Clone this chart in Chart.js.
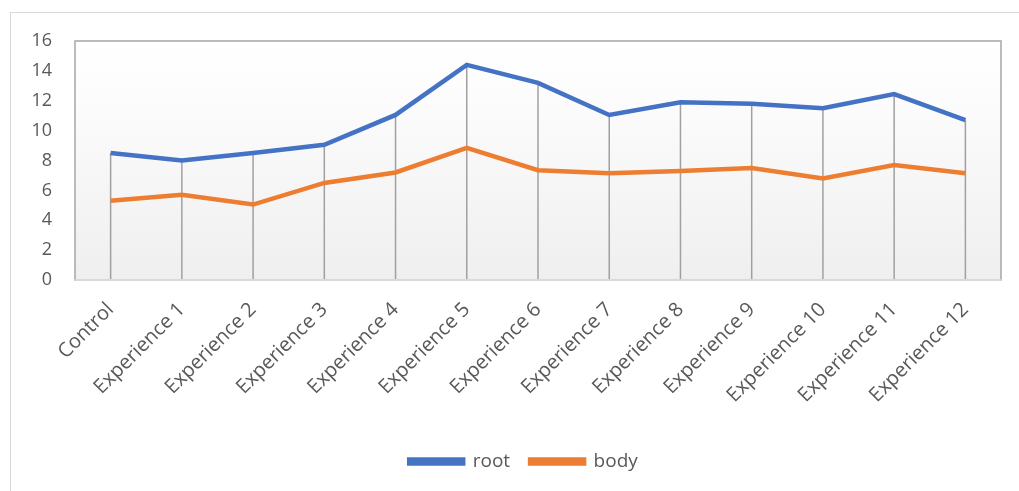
<!DOCTYPE html>
<html>
<head>
<meta charset="utf-8">
<script src="https://cdn.jsdelivr.net/npm/chart.js@4.4.1/dist/chart.umd.min.js"></script>
<style>
    html, body { margin: 0; padding: 0; background: #fff; }
    #wrap { position: relative; width: 1019px; height: 491px; overflow: hidden; }
    .frame { position: absolute; left: 10px; top: 12px; width: 1100px; height: 600px; border: 1px solid #d9d9d9; }
    #chart { position: absolute; left: 0; top: 0; }
</style>
</head>
<body>
<div id="wrap">
    <div class="frame"></div>
    <canvas id="chart" width="1019" height="491"></canvas>
</div>
<script>
// categories and series
var categories = ["Control", "Experience 1", "Experience 2", "Experience 3", "Experience 4", "Experience 5",
    "Experience 6", "Experience 7", "Experience 8", "Experience 9", "Experience 10", "Experience 11", "Experience 12"];
var rootValues = [8.5, 8.0, 8.5, 9.05, 11.05, 14.4, 13.2, 11.05, 11.9, 11.8, 11.5, 12.45, 10.7];
var bodyValues = [5.3, 5.7, 5.05, 6.5, 7.2, 8.85, 7.35, 7.15, 7.3, 7.5, 6.8, 7.7, 7.15];
var yMin = 0, yMax = 16, yStep = 2;

var blue = '#4472C4';
var orange = '#ED7D31';

// 繪圖區背景 + 外框 + 垂直線
var plotArea = {
    id: 'plotArea',
    afterLayout: function (chart) {
        // 圖例稍微往右
        chart.legend.left += 23;
        chart.legend.right += 23;
        chart.legend.top += 2;
        chart.legend.bottom += 2;
    },
    beforeDatasetsDraw: function (chart) {
        var ctx = chart.ctx;
        var a = chart.chartArea;
        var g = ctx.createLinearGradient(0, a.top, 0, a.bottom);
        g.addColorStop(0, '#ffffff');
        g.addColorStop(0.25, '#fcfcfc');
        g.addColorStop(1, '#efefef');
        ctx.save();
        ctx.fillStyle = g;
        ctx.fillRect(a.left, a.top, a.right - a.left, a.bottom - a.top);

        // drop lines
        var yScale = chart.scales.y;
        var zero = yScale.getPixelForValue(0);
        ctx.strokeStyle = '#a0a0a0';
        ctx.lineWidth = 1.5;
        categories.forEach(function (c, i) {
            var top = zero;
            chart.data.datasets.forEach(function (ds, d) {
                var pt = chart.getDatasetMeta(d).data[i];
                if (pt && pt.y < top) top = pt.y;
            });
            var x = chart.getDatasetMeta(0).data[i].x;
            ctx.beginPath();
            ctx.moveTo(x, top);
            ctx.lineTo(x, zero);
            ctx.stroke();
        });

        ctx.strokeStyle = '#a6a6a6';
        ctx.lineWidth = 1.5;
        ctx.strokeRect(a.left, a.top, a.right - a.left, a.bottom - a.top);
        ctx.strokeStyle = '#d9d9d9';
        ctx.lineWidth = 2;
        ctx.beginPath();
        ctx.moveTo(a.left, a.bottom);
        ctx.lineTo(a.right, a.bottom);
        ctx.stroke();
        ctx.restore();
    }
};

Chart.defaults.font.family = "'Open Sans', sans-serif";
Chart.defaults.font.size = 18;
Chart.defaults.color = '#595959';

new Chart(document.getElementById('chart').getContext('2d'), {
    type: 'line',
    data: {
        labels: categories,
        datasets: [
            {
                label: 'root',
                data: rootValues,
                borderColor: blue,
                backgroundColor: blue,
                borderWidth: 4.5,
                pointRadius: 0,
                tension: 0,
                fill: false
            },
            {
                label: 'body',
                data: bodyValues,
                borderColor: orange,
                backgroundColor: orange,
                borderWidth: 4.5,
                pointRadius: 0,
                tension: 0,
                fill: false
            }
        ]
    },
    options: {
        responsive: false,
        animation: false,
        layout: {
            padding: { left: 0, top: 41, right: 18, bottom: 12 }
        },
        plugins: {
            legend: {
                position: 'bottom',
                labels: {
                    boxWidth: 54,
                    boxHeight: 4,
                    padding: 20,
                    font: { size: 19 }
                }
            },
            tooltip: { enabled: false }
        },
        scales: {
            x: {
                offset: true,
                grid: { display: false, drawTicks: false },
                border: { display: false },
                ticks: {
                    minRotation: 45,
                    maxRotation: 45,
                    padding: 18,
                    font: { size: 20 }
                },
                afterFit: function (scale) {
                    scale.height = 150;
                }
            },
            y: {
                min: yMin,
                max: yMax,
                grid: { display: false, drawTicks: false },
                border: { display: false },
                ticks: {
                    stepSize: yStep,
                    padding: 23,
                    font: { size: 18 }
                },
                afterFit: function (scale) {
                    scale.width = 75;
                }
            }
        }
    },
    plugins: [plotArea]
});
</script>
</body>
</html>
